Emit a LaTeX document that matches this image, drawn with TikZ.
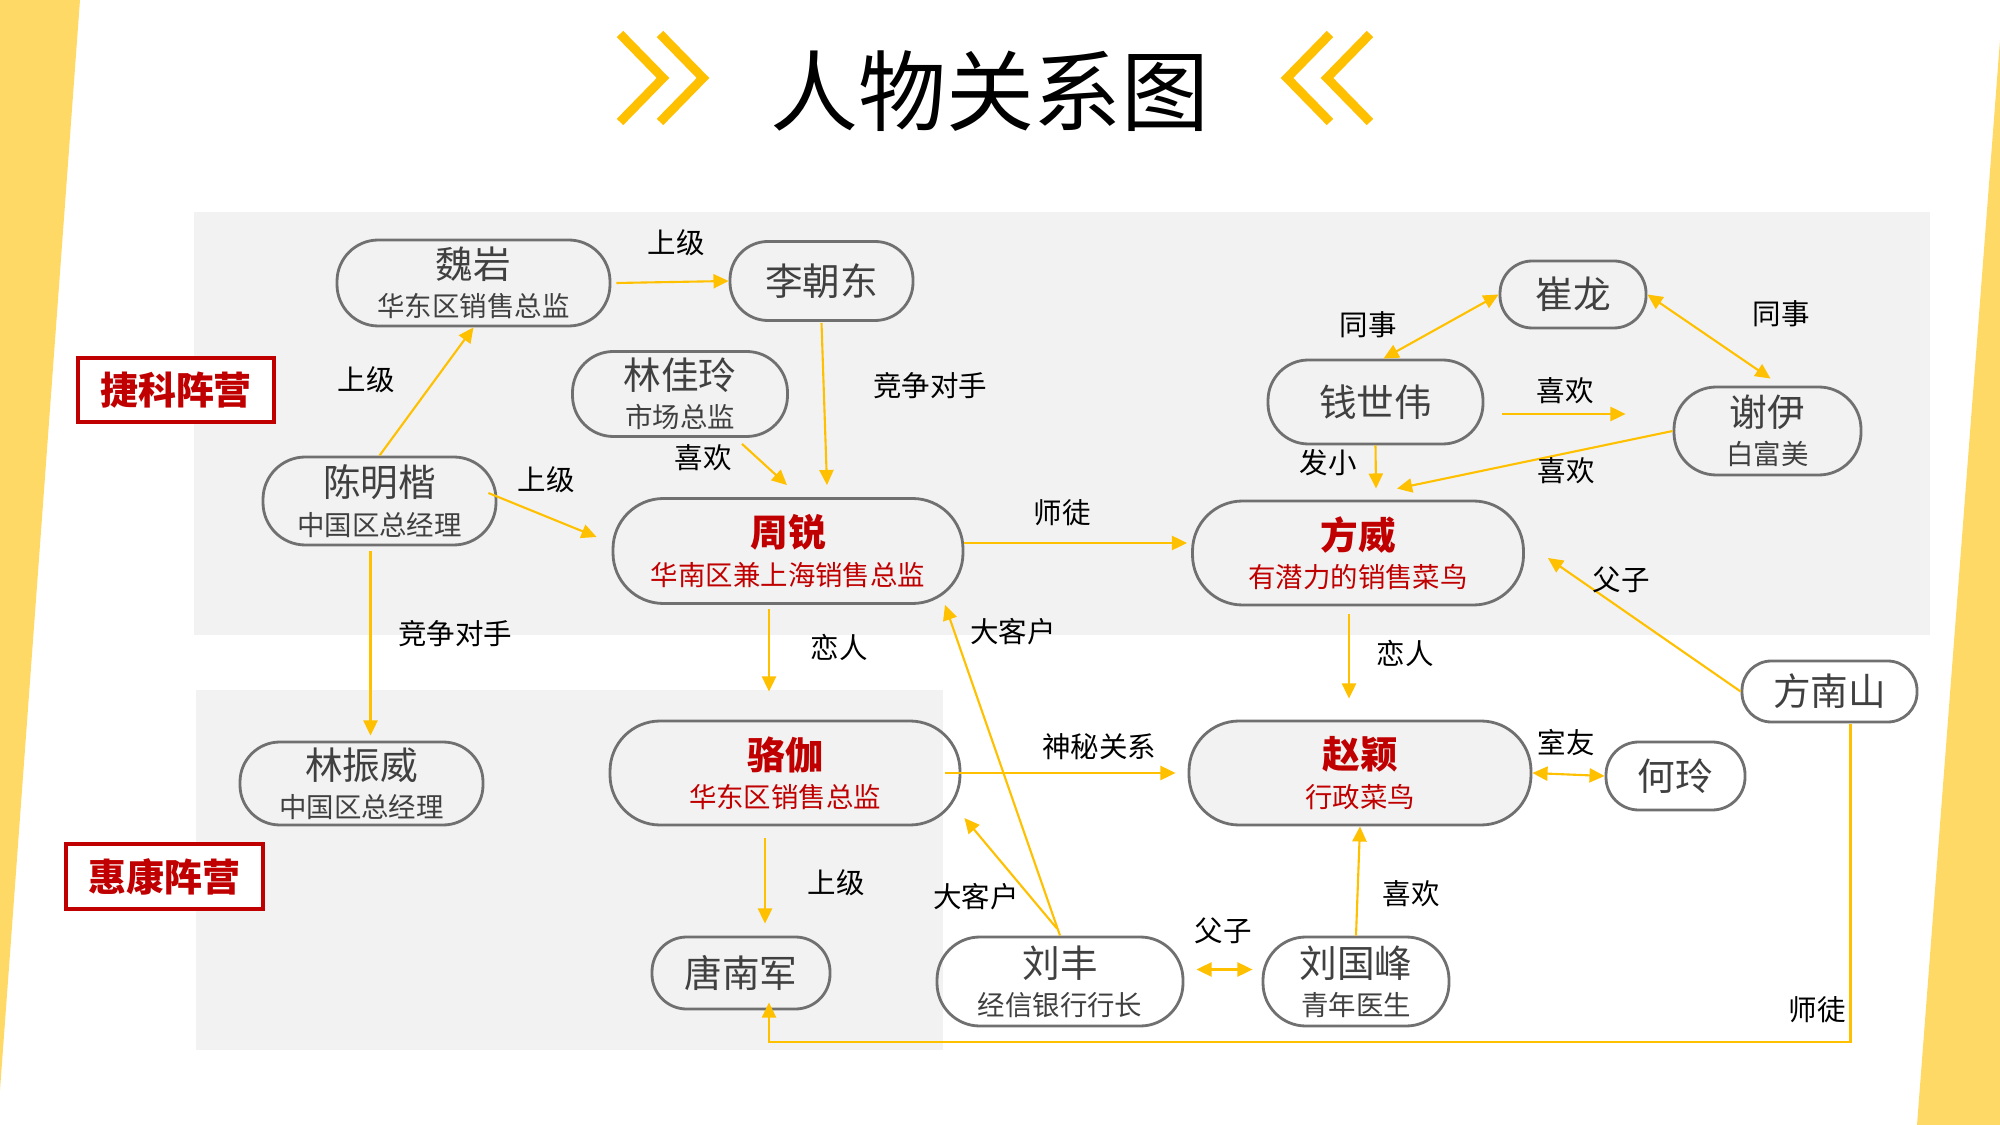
\documentclass[tikz,border=0pt]{standalone}
\usepackage{fontspec}
\setmainfont{Noto Sans CJK SC}
\usetikzlibrary{arrows.meta}
\definecolor{yel}{HTML}{FFC000}
\definecolor{stripe}{HTML}{FFD966}
\definecolor{panel}{HTML}{F2F2F2}
\definecolor{nodeline}{HTML}{707070}
\definecolor{txt}{HTML}{404040}
\definecolor{redc}{HTML}{C00000}
\newcommand\pn[1]{{\fontsize{10.7}{10.9}\selectfont #1}}
\newcommand\rn[1]{{\fontsize{10.7}{10.9}\selectfont\bfseries\color{redc}#1}}
\newcommand\rs[1]{{\color{redc}#1}}
\begin{document}
\begin{tikzpicture}[x=0.01cm,y=-0.01cm,
  person/.style 2 args={rectangle, rounded corners={#2*0.0048cm}, draw=nodeline, line width=0.8pt, inner sep=0pt,
    minimum width={#1*0.01cm}, minimum height={#2*0.01cm}, align=center, text=txt,
    font=\fontsize{7.8}{10.9}\selectfont},
  camp/.style={draw=redc, line width=1pt, fill=white, text=redc, inner sep=0pt,
    font=\fontsize{10.8}{11}\selectfont\bfseries},
  lab/.style={inner sep=0pt, text=black, font=\fontsize{8.1}{9}\selectfont},
  edge/.style={draw=yel, line width=0.6pt, -{Triangle[length=4.3pt,width=4pt]}},
  bedge/.style={draw=yel, line width=0.6pt, {Triangle[length=4.3pt,width=4pt]}-{Triangle[length=4.3pt,width=4pt]}},
  chev/.style={draw=yel, line width=2.56pt, miter limit=10}]
\useasboundingbox (0,0) rectangle (2000,1125);
\fill[white] (0,0) rectangle (2000,1125);
% side stripes
\fill[stripe] (0,0) -- (80,0) -- (0,1090) -- cycle;
\fill[stripe] (2000,40) -- (1917,1125) -- (2000,1125) -- cycle;
% panels
\fill[panel] (194,212) rectangle (1930,635);
\fill[panel] (196,690) rectangle (943,1050);
% title
\node[font=\fontsize{25}{25}\selectfont, inner sep=0pt] (title) at (990,91) {人物关系图};
\draw[chev] (620,34) -- (663,78) -- (620,122);
\draw[chev] (660,34) -- (703,78) -- (660,122);
\draw[chev] (1370,34) -- (1327,78) -- (1370,122);
\draw[chev] (1330,34) -- (1287,78) -- (1330,122);
% camps
\node[camp, minimum width=1.96cm, minimum height=0.64cm] (jk) at (176,390) {捷科阵营};
\node[camp, minimum width=1.97cm, minimum height=0.65cm] (hk) at (164.5,876.5) {惠康阵营};
% people
\node[person={273}{86}] (wei) at (473.5,283) {\pn{魏岩}\\华东区销售总监};
\node[person={183}{79}] (li) at (821.5,281) {\pn{李朝东}};
\node[person={215}{85}] (linjl) at (680,394) {\pn{林佳玲}\\市场总监};
\node[person={233}{88}] (chen) at (379.5,501) {\pn{陈明楷}\\中国区总经理};
\node[person={350}{105}] (zhou) at (788,551) {\rn{周锐}\\\rs{华南区兼上海销售总监}};
\node[person={331}{104}] (fangw) at (1358,553) {\rn{方威}\\\rs{有潜力的销售菜鸟}};
\node[person={215}{84}] (qian) at (1375.5,402) {\pn{钱世伟}};
\node[person={146}{67}] (cui) at (1573,294.5) {\pn{崔龙}};
\node[person={187}{88}] (xie) at (1767.5,431) {\pn{谢伊}\\白富美};
\node[person={243}{83}] (linzw) at (361.5,783.5) {\pn{林振威}\\中国区总经理};
\node[person={350}{104}] (luo) at (785,773) {\rn{骆伽}\\\rs{华东区销售总监}};
\node[person={178}{72}] (tang) at (741,973) {\pn{唐南军}};
\node[person={246}{89}] (liuf) at (1060,981.5) {\pn{刘丰}\\经信银行行长};
\node[person={186}{89}] (liugf) at (1356,981.5) {\pn{刘国峰}\\青年医生};
\node[person={342}{104}, fill=panel] (zhao) at (1360,773) {\rn{赵颖}\\\rs{行政菜鸟}};
\node[person={139}{68}] (he) at (1675.5,776) {\pn{何玲}};
\node[person={175}{61}] (fangns) at (1829.5,691.5) {\pn{方南山}};
% connectors
\draw[edge] ([shift={(5,0)}]wei.east) -- (li.west);
\draw[edge] (chen.north) -- (wei.south);
\draw[edge] ([shift={(-9,-8)}]chen.east) -- ([shift={(-15,-14)}]zhou.west);
\draw[edge] ([shift={(62,6)}]linjl.south) -- ([shift={(-1,-12)}]zhou.north);
\draw[edge] ([shift={(0,1)}]li.south) -- ([shift={(39,-12)}]zhou.north);
\draw[edge] ([shift={(-9,5)}]chen.south) -- ([shift={(9,-5)}]linzw.north);
\draw[edge] ([shift={(-19,4)}]zhou.south) -- ([shift={(-16,-28)}]luo.north);
\draw[edge] ([shift={(0,-8)}]zhou.east) -- ([shift={(-4,-10)}]fangw.west);
\draw[edge] (liuf.north) -- ([shift={(157,0)}]zhou.south);
\draw[edge] ([shift={(-3,-7)}]liuf.north) -- ([shift={(3,45)}]luo.east);
\draw[edge] ([shift={(-16,0)}]luo.east) -- ([shift={(-12,0)}]zhao.west);
\draw[edge] ([shift={(-9,8)}]fangw.south) -- ([shift={(-11,-21)}]zhao.north);
\draw[bedge] (zhao.east) -- (he.west);
\draw[edge] (liugf.north) -- (zhao.south);
\draw[bedge] ([shift={(12,-12)}]liuf.east) -- ([shift={(-9,-12)}]liugf.west);
\draw[edge] (fangns.west) -- ([shift={(23,5)}]fangw.east);
\draw[edge] ([shift={(21,1)}]fangns.south) |- ([shift={(28,32)}]tang.south) -- ([shift={(28,-8)}]tang.south);
\draw[edge] ([shift={(-20,12)}]luo.south) -- ([shift={(24,-12)}]tang.north);
\draw[bedge] ([shift={(8,0)}]qian.north) -- (cui.west);
\draw[bedge] (cui.east) -- ([shift={(3,-7)}]xie.north);
\draw[edge] ([shift={(18,12)}]qian.east) -- ([shift={(-47,-17)}]xie.west);
\draw[edge] (qian.south) -- ([shift={(18,-11)}]fangw.north);
\draw[edge] (xie.west) -- ([shift={(39,-11)}]fangw.north);
% connector labels
\node[lab] (l1) at (676,243) {上级};
\node[lab] (l2) at (366,380) {上级};
\node[lab] (l3) at (546,480) {上级};
\node[lab] (l4) at (703,458) {喜欢};
\node[lab] (l5) at (930,386) {竞争对手};
\node[lab] (l6) at (455,634) {竞争对手};
\node[lab] (l7) at (839,647) {恋人};
\node[lab] (l8) at (1062,513) {师徒};
\node[lab] (l9) at (1013,632) {大客户};
\node[lab] (l10) at (976,897) {大客户};
\node[lab] (l11) at (1099,747) {神秘关系};
\node[lab] (l12) at (1405,653) {恋人};
\node[lab] (l13) at (1566,743) {室友};
\node[lab] (l14) at (1411,894) {喜欢};
\node[lab] (l15) at (1223,931) {父子};
\node[lab] (l16) at (1621,580) {父子};
\node[lab] (l17) at (1817,1010) {师徒};
\node[lab] (l18) at (836,883) {上级};
\node[lab] (l19) at (1368,325) {同事};
\node[lab] (l20) at (1781,314) {同事};
\node[lab] (l21) at (1565,391) {喜欢};
\node[lab] (l22) at (1328,463) {发小};
\node[lab] (l23) at (1566,471) {喜欢};
\end{tikzpicture}
\end{document}
